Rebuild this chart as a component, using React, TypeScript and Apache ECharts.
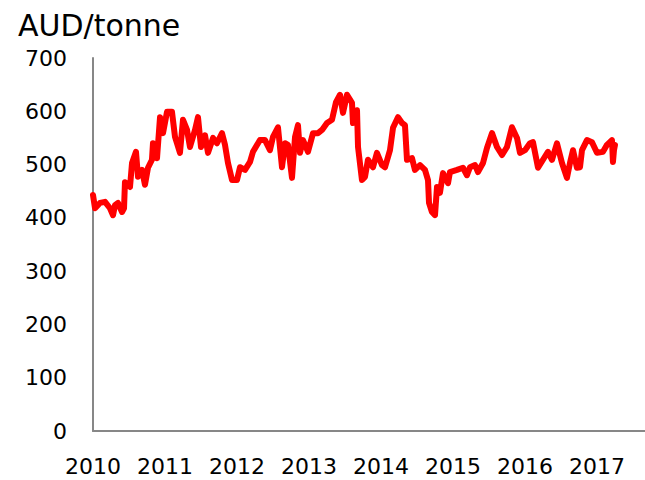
import React, { useEffect, useRef } from "react";
import * as echarts from "echarts";

const unitLabel = "AUD/tonne";
const yearTicks = [2010, 2011, 2012, 2013, 2014, 2015, 2016, 2017];
const priceDates = [
  2010.0, 2010.028, 2010.097, 2010.167, 2010.236, 2010.278, 2010.306, 2010.347, 2010.403, 2010.431,
  2010.444, 2010.514, 2010.542, 2010.597, 2010.625, 2010.681, 2010.722, 2010.764, 2010.819, 2010.833,
  2010.889, 2010.931, 2010.972, 2011.028, 2011.097, 2011.139, 2011.208, 2011.25, 2011.306, 2011.347,
  2011.417, 2011.458, 2011.5, 2011.556, 2011.597, 2011.667, 2011.722, 2011.792, 2011.833, 2011.875,
  2011.931, 2012.0, 2012.042, 2012.111, 2012.181, 2012.222, 2012.319, 2012.389, 2012.458, 2012.5,
  2012.569, 2012.625, 2012.667, 2012.708, 2012.764, 2012.806, 2012.847, 2012.875, 2012.917, 2012.986,
  2013.056, 2013.125, 2013.181, 2013.25, 2013.319, 2013.375, 2013.431, 2013.472, 2013.528, 2013.597,
  2013.611, 2013.667, 2013.681, 2013.736, 2013.778, 2013.819, 2013.889, 2013.944, 2014.014, 2014.056,
  2014.125, 2014.167, 2014.236, 2014.292, 2014.333, 2014.361, 2014.431, 2014.472, 2014.542, 2014.611,
  2014.653, 2014.667, 2014.708, 2014.75, 2014.778, 2014.819, 2014.861, 2014.931, 2014.958, 2015.056,
  2015.139, 2015.194, 2015.236, 2015.306, 2015.347, 2015.417, 2015.472, 2015.542, 2015.611, 2015.681,
  2015.75, 2015.819, 2015.889, 2015.931, 2016.0, 2016.069, 2016.111, 2016.181, 2016.25, 2016.319,
  2016.375, 2016.444, 2016.514, 2016.583, 2016.625, 2016.667, 2016.722, 2016.764, 2016.792, 2016.861,
  2016.931, 2017.0, 2017.083, 2017.139, 2017.208, 2017.222, 2017.236, 2017.25,
];
const priceValues = [
  443, 418, 428, 430, 418, 405, 424, 428, 411, 418,
  467, 458, 503, 524, 477, 490, 462, 494, 509, 540,
  512, 589, 559, 599, 599, 552, 522, 584, 565, 533,
  565, 589, 533, 555, 522, 550, 540, 559, 537, 503,
  471, 471, 495, 490, 505, 524, 546, 546, 527, 552,
  570, 495, 540, 537, 475, 552, 574, 522, 546, 524,
  559, 559, 565, 578, 584, 617, 631, 597, 631, 616,
  578, 602, 533, 471, 477, 509, 495, 522, 499, 495,
  527, 569, 589, 578, 574, 509, 512, 490, 499, 490,
  471, 428, 411, 405, 458, 447, 484, 465, 486, 490,
  494, 480, 495, 499, 486, 503, 531, 559, 533, 518,
  533, 570, 550, 522, 527, 540, 542, 494, 509, 524,
  509, 540, 503, 475, 503, 527, 494, 495, 527, 546,
  542, 522, 524, 537, 546, 505, 527, 537,
];

export default function App() {
  const ref = useRef<HTMLDivElement>(null);
  useEffect(() => {
    if (!ref.current) return;
    const chart = echarts.init(ref.current, undefined, { renderer: "svg" });
    const font = "DejaVu Sans";
    chart.setOption({
      animation: false,
      backgroundColor: "#ffffff",
      title: {
        text: unitLabel,
        left: 13,
        top: 5,
        textStyle: { fontFamily: font, fontSize: 30, fontWeight: "normal", color: "#000" },
      },
      grid: { left: 93, right: 0, top: 58, bottom: 49, containLabel: false },
      xAxis: {
        type: "value",
        min: yearTicks[0],
        max: 2017.667,
        interval: 1,
        axisLine: { show: true, lineStyle: { color: "#878787", width: 2 } },
        axisTick: { show: false },
        splitLine: { show: false },
        axisLabel: {
          margin: 24,
          showMaxLabel: false,
          fontFamily: font,
          fontSize: 22,
          color: "#000",
          formatter: (v: number) => (yearTicks.includes(Math.round(v)) ? String(Math.round(v)) : ""),
        },
      },
      yAxis: {
        type: "value",
        min: 0,
        max: 700,
        interval: 100,
        axisLine: { show: true, lineStyle: { color: "#878787", width: 2 } },
        axisTick: { show: false },
        splitLine: { show: false },
        axisLabel: { margin: 26, fontFamily: font, fontSize: 22, color: "#000" },
      },
      series: [
        {
          type: "line",
          data: priceDates.map((d, i) => [d, priceValues[i]]),
          showSymbol: false,
          lineStyle: { color: "#ff0000", width: 6, join: "round", cap: "round" },
          itemStyle: { color: "#ff0000" },
        },
      ],
    });
    return () => chart.dispose();
  }, []);
  return (
    <div
      ref={ref}
      style={{ position: "fixed", left: 0, top: 0, width: 645, height: 480 }}
    />
  );
}
